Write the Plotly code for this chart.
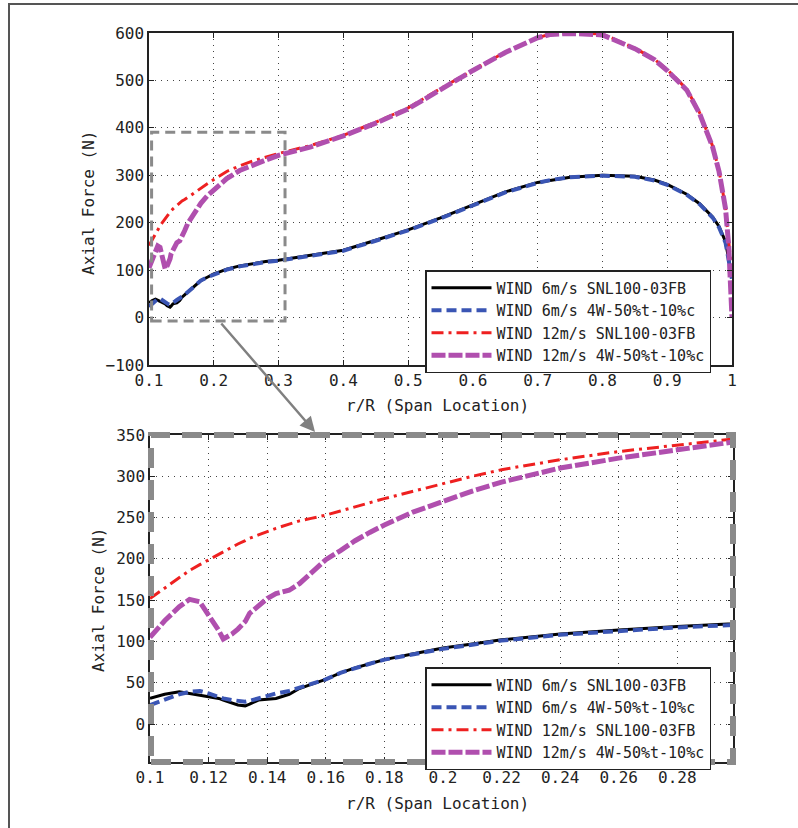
import plotly.graph_objects as go

# ---------------- data ----------------
r_R = [0.100, 0.105, 0.110, 0.1135, 0.117, 0.120, 0.1235, 0.125, 0.128, 0.130,
       0.1325, 0.134, 0.137, 0.140, 0.143, 0.1475, 0.151, 0.155, 0.160, 0.165,
       0.170, 0.175, 0.180, 0.190, 0.200, 0.210, 0.220, 0.240, 0.260, 0.280,
       0.300, 0.350, 0.400, 0.450, 0.500, 0.550, 0.600, 0.650, 0.700, 0.720,
       0.750, 0.800, 0.850, 0.880, 0.900, 0.930, 0.950, 0.970, 0.980, 0.990,
       0.995, 1.000]

wind6_snl = [31, 36, 39, 37, 35, 33, 31, 29, 25, 23,
             22, 24, 29, 30, 31, 36, 43, 48, 54, 62,
             68, 73, 78, 85, 92, 97, 102, 109, 114, 118,
             121, 131, 142, 163, 185, 210, 238, 265, 285, 290,
             296, 300, 298, 290, 281, 260, 240, 212, 192, 160,
             125, 85]

wind6_4w = [23, 30, 36, 39, 40, 37, 33, 31, 29, 28,
            27, 28, 31, 34, 37, 40, 44, 48, 54, 62,
            68, 73, 78, 85, 91, 96, 101, 108, 113, 117,
            120, 130, 141, 162, 184, 209, 237, 264, 284, 290,
            296, 299, 297, 289, 280, 259, 239, 211, 190, 158,
            120, 80]

wind12_snl = [152, 165, 178, 186, 193, 199, 206, 209, 214, 218,
              222, 225, 229, 233, 237, 242, 246, 249, 253, 258,
              263, 268, 273, 282, 291, 300, 308, 320, 330, 338,
              346, 363, 384, 412, 442, 483, 522, 560, 590, 598,
              600, 598, 568, 545, 523, 482, 432, 362, 310, 232,
              160, 90]

wind12_4w = [105, 125, 142, 151, 148, 133, 113, 103, 109, 115,
             124, 134, 144, 152, 158, 162, 170, 183, 199, 210,
             222, 232, 241, 257, 270, 282, 293, 310, 322, 332,
             342, 360, 383, 410, 440, 482, 521, 559, 590, 597,
             599, 596, 567, 544, 521, 480, 430, 360, 308, 230,
             150, 0]

series_names = ["WIND 6m/s SNL100-03FB", "WIND 6m/s 4W-50%t-10%c",
                "WIND 12m/s SNL100-03FB", "WIND 12m/s 4W-50%t-10%c"]
series_values = [wind6_snl, wind6_4w, wind12_snl, wind12_4w]

top_xticks = [0.1, 0.2, 0.3, 0.4, 0.5, 0.6, 0.7, 0.8, 0.9, 1.0]
top_yticks = [-100, 0, 100, 200, 300, 400, 500, 600]
bot_xticks = [0.1, 0.12, 0.14, 0.16, 0.18, 0.2, 0.22, 0.24, 0.26, 0.28]
bot_yticks = [0, 50, 100, 150, 200, 250, 300, 350]

x_title = "r/R (Span Location)"
y_title = "Axial Force (N)"

# ---------------- styles ----------------
styles = [
    dict(color="#000000", width=3, dash="solid"),
    dict(color="#3a55b4", width=4, dash="10px,5px"),
    dict(color="#ee2020", width=3, dash="12px,5px,3px,5px"),
    dict(color="#b04fae", width=5, dash="14px,3px"),
]

W, H = 798, 828
def px_x(p):
    return p / W
def px_y(p):
    return 1 - p / H

fig = go.Figure()

for legend_name, xa, ya in [("legend", "x", "y"), ("legend2", "x2", "y2")]:
    for i in range(4):
        fig.add_trace(go.Scatter(
            x=r_R, y=series_values[i], mode="lines", name=series_names[i],
            line=styles[i], xaxis=xa, yaxis=ya, legend=legend_name,
            legendgroup=legend_name + str(i), showlegend=True,
        ))

font_mono = "DejaVu Sans Mono"
axis_common = dict(
    showline=True, linecolor="#222", linewidth=1.5, mirror="ticks",
    ticks="inside", ticklen=5, tickcolor="#222", automargin=False,
    showgrid=True, gridcolor="#444", griddash="1px,5px", gridwidth=1.2,
    zeroline=False, tickfont=dict(family=font_mono, size=16, color="#222"),
)

legend_common = dict(xanchor="left", yanchor="top",
                     bgcolor="white", bordercolor="#222", borderwidth=1.5,
                     font=dict(family=font_mono, size=15, color="#222"),
                     traceorder="grouped", tracegroupgap=0, itemwidth=60)

fig.update_layout(
    width=W, height=H,
    margin=dict(l=0, r=0, t=0, b=0, autoexpand=False),
    paper_bgcolor="white", plot_bgcolor="white",
    xaxis=dict(domain=[px_x(149), px_x(732)], range=[0.1, 1.0],
               tickvals=top_xticks, anchor="y", **axis_common),
    yaxis=dict(domain=[px_y(365), px_y(33)], range=[-100, 600],
               tickvals=top_yticks, anchor="x", **axis_common),
    xaxis2=dict(domain=[px_x(150), px_x(733)], range=[0.1, 0.299],
                tickvals=bot_xticks, anchor="y2", **axis_common),
    yaxis2=dict(domain=[px_y(762), px_y(435)], range=[-46, 350],
                tickvals=bot_yticks, anchor="x2", **axis_common),
    legend=dict(x=px_x(425), y=px_y(270), **legend_common),
    legend2=dict(x=px_x(425), y=px_y(667), **legend_common),
)

title_font = dict(family=font_mono, size=16, color="#222")
for (tx, ty) in [(437, 406), (437, 803)]:
    fig.add_annotation(x=px_x(tx), y=px_y(ty), xref="paper", yref="paper",
                       text=x_title, showarrow=False, font=title_font,
                       xanchor="center", yanchor="middle")
for (tx, ty) in [(89, 203), (98, 600)]:
    fig.add_annotation(x=px_x(tx), y=px_y(ty), xref="paper", yref="paper",
                       text=y_title, showarrow=False, font=title_font,
                       textangle=-90, xanchor="center", yanchor="middle")

# outer frame
fig.add_shape(type="rect", xref="paper", yref="paper",
              x0=px_x(9), x1=1.02, y0=-0.02, y1=px_y(4),
              line=dict(color="#555", width=2), layer="above")

# zoom-region dashed rectangle in top plot
fig.add_shape(type="rect", xref="x", yref="y", x0=0.104, x1=0.31, y0=-7, y1=391,
              line=dict(color="#8a8a8a", width=3, dash="10px,6px"), layer="above")

# thick dashed border around bottom plot
fig.add_shape(type="rect", xref="paper", yref="paper",
              x0=px_x(151), x1=px_x(733), y0=px_y(762), y1=px_y(435),
              line=dict(color="#8a8a8a", width=6, dash="20px,12px"), layer="above")

# arrow from rectangle to bottom plot
fig.add_annotation(x=px_x(315), y=px_y(432), ax=220 - 315, ay=322 - 432,
                   xref="paper", yref="paper", axref="pixel", ayref="pixel",
                   showarrow=True, arrowhead=2, arrowsize=1.2, arrowwidth=2.5,
                   arrowcolor="#808080", text="")

fig.write_html("out.html", config={"displayModeBar": False},
               post_script="document.body.style.margin='0px';")
